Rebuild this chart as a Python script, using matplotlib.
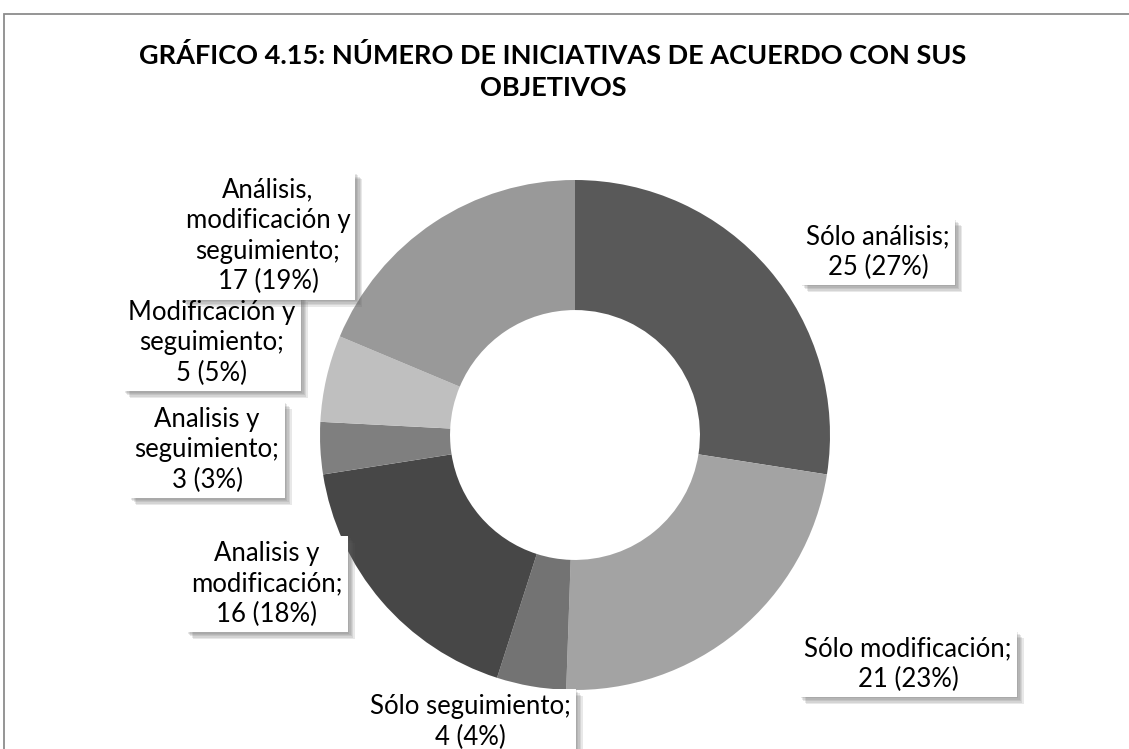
import matplotlib
matplotlib.use("Agg")
import matplotlib.pyplot as plt
from matplotlib.patches import Rectangle
import matplotlib.patheffects as pe

categories = ["Sólo análisis", "Sólo modificación", "Sólo seguimiento",
              "Analisis y modificación", "Analisis y seguimiento",
              "Modificación y seguimiento", "Análisis, modificación y seguimiento"]
values = [25, 21, 4, 16, 3, 5, 17]
percents = [27, 23, 4, 18, 3, 5, 19]
label_texts = [
    "Sólo análisis;\n25 (27%)",
    "Sólo modificación;\n21 (23%)",
    "Sólo seguimiento;\n4 (4%)",
    "Analisis y\nmodificación;\n16 (18%)",
    "Analisis y\nseguimiento;\n3 (3%)",
    "Modificación y\nseguimiento;\n5 (5%)",
    "Análisis,\nmodificación y\nseguimiento;\n17 (19%)",
]
colors = ["#595959", "#a3a3a3", "#737373", "#474747", "#7f7f7f", "#bfbfbf", "#999999"]
# label centre positions in pixels (x from left, y from top)
label_pos = [(878, 252), (908, 664), (470, 722), (267, 584), (207, 450), (212, 343), (268, 236)]

W, H = 1129, 749
fig = plt.figure(figsize=(W / 100, H / 100), dpi=100)
fig.patch.set_facecolor("white")

# chart frame
fig.patches.append(Rectangle((4 / W, -0.1), 1.2, (H - 14) / H + 0.1, transform=fig.transFigure,
                             fill=False, edgecolor="#8c8c8c", linewidth=1.3))

cx, cy, R = 575, 435, 255
ax = fig.add_axes([(cx - R) / W, (H - cy - R) / H, 2 * R / W, 2 * R / H])
ax.pie(values, colors=colors, startangle=90, counterclock=False, radius=1,
       wedgeprops=dict(width=0.51, edgecolor="none", linewidth=0))
ax.set_xlim(-1, 1)
ax.set_ylim(-1, 1)
ax.set_aspect("equal")
ax.axis("off")

fig.text(553 / W, 1 - 72 / H, "GRÁFICO 4.15: NÚMERO DE INICIATIVAS DE ACUERDO CON SUS\nOBJETIVOS",
         ha="center", va="center", fontsize=19.5, fontweight="bold", family="Lato",
         linespacing=1.4, color="#000000")

shadow = [pe.SimplePatchShadow(offset=(d, -d), shadow_rgbFace="#606060", alpha=0.14)
          for d in (1, 2, 3, 4, 5)]
common = dict(ha="center", va="center", fontsize=18.5, family="Lato", linespacing=1.28)
for txt, (px, py) in zip(label_texts, label_pos):
    # box (with invisible text) first, all texts drawn above all boxes
    b = fig.text(px / W, 1 - py / H, txt, color="none", zorder=3,
                 bbox=dict(boxstyle="square,pad=0.2", facecolor="white", edgecolor="none"),
                 **common)
    b.get_bbox_patch().set_path_effects(shadow + [pe.Normal()])
for txt, (px, py) in zip(label_texts, label_pos):
    fig.text(px / W, 1 - py / H, txt, color="#000000", zorder=4, **common)

fig.savefig("out.png", dpi=100, facecolor="white")
